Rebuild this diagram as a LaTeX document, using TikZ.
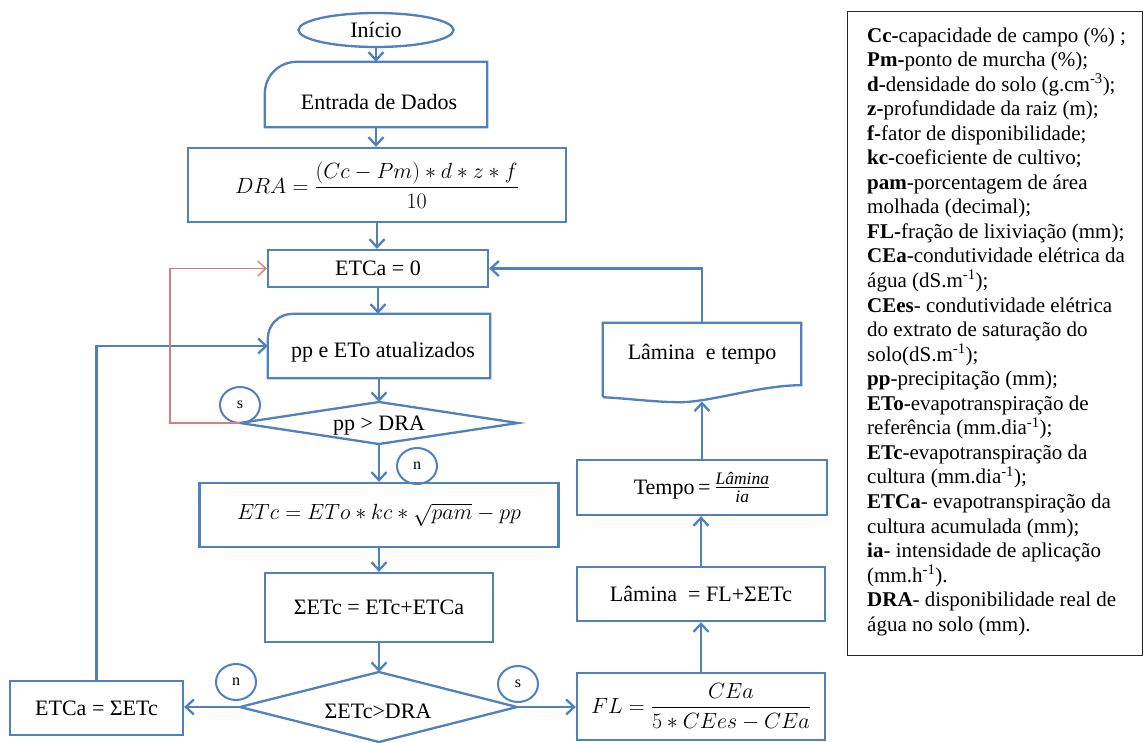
\RequirePackage{fix-cm}
\documentclass[tikz,border=0pt]{standalone}
\usepackage{amsmath}
\usepackage{fontspec}
\setmainfont{Liberation Serif}
\usetikzlibrary{arrows.meta,shapes.geometric,calc}
\definecolor{fblue}{RGB}{79,129,189}
\definecolor{fred}{RGB}{214,128,126}
\begin{document}
\begin{tikzpicture}[x=1pt,y=-1pt,
  box/.style={draw=fblue, line width=2.3pt, inner sep=0pt, font=\fontsize{22}{26}\selectfont},
  txt/.style={inner sep=0pt, font=\fontsize{22}{26}\selectfont},
  conn/.style={draw=fblue, line width=2.3pt, -{Straight Barb[length=8pt,width=15pt]}},
  rconn/.style={draw=fred, line width=1.4pt, -{Straight Barb[length=8pt,width=15pt]}},
  lbl/.style={draw=fblue, line width=2pt, ellipse, minimum width=40pt, minimum height=36pt, inner sep=0pt, font=\fontsize{16}{18}\selectfont},
  shp/.style={draw=fblue, line width=2.3pt, line join=miter},
  leg/.style={inner sep=0pt, font=\fontsize{21}{24}\selectfont, anchor=base west}
]
\useasboundingbox (0,0) rectangle (1146,742);
\fill[white] (0,0) rectangle (1146,742);

% start
\node[box, ellipse, minimum width=155pt, minimum height=34pt] (start) at (376,30) {Início};

% entrada de dados (manual input with rounded corner)
\node[minimum width=222pt, minimum height=65pt, inner sep=0pt] (entrada) at (376,94.5) {};
\draw[shp] (entrada.south west) -- ($(entrada.north west)+(0,32)$)
  .. controls ($(entrada.north west)+(0,14)$) and ($(entrada.north west)+(14,0)$) .. ($(entrada.north west)+(32,0)$)
  -- (entrada.north east) -- (entrada.south east) -- cycle;
\node[txt] (entradaT) at (379,102) {Entrada de Dados};

% DRA
\node[box, minimum width=378pt, minimum height=74pt] (dra) at (377,185) {$DRA=\dfrac{(Cc-Pm)\ast d\ast z\ast f}{10}$};

% ETCa = 0
\node[box, minimum width=220pt, minimum height=37pt] (etca0) at (378,268.5) {ETCa = 0};

% pp e ETo atualizados
\node[minimum width=222pt, minimum height=64pt, inner sep=0pt] (pp) at (379,346) {};
\draw[shp] (pp.south west) -- ($(pp.north west)+(0,25)$)
  .. controls ($(pp.north west)+(0,11)$) and ($(pp.north west)+(11,0)$) .. ($(pp.north west)+(25,0)$)
  -- (pp.north east) -- (pp.south east) -- cycle;
\node[txt] (ppT) at (383,352) {pp e ETo atualizados};

% decision 1
\coordinate (d1n) at (379,402);
\coordinate (d1e) at (518,423);
\coordinate (d1s) at (379,444);
\coordinate (d1w) at (240,423);
\draw[shp] (d1n) -- (d1e) -- (d1s) -- (d1w) -- cycle;
\node[txt] (d1) at (379,426) {pp > DRA};

% ETc
\node[box, minimum width=359pt, minimum height=64pt] (etc) at (379,515) {$ETc = ETo\ast kc\ast\sqrt{pam}-pp$};

% sum
\node[box, minimum width=228pt, minimum height=69pt] (sum) at (379,607.5) {ΣETc = ETc+ETCa};

% decision 2
\coordinate (d2n) at (379,672);
\coordinate (d2e) at (517,707);
\coordinate (d2s) at (379,742);
\coordinate (d2w) at (240,707);
\draw[shp] (d2n) -- (d2e) -- (d2s) -- (d2w) -- cycle;
\node[txt] (d2) at (378,711) {ΣETc>DRA};

% ETCa = sum
\node[box, minimum width=173pt, minimum height=54pt] (etcasum) at (96.5,708) {ETCa = ΣETc};

% right column
\node[box, minimum width=248pt, minimum height=67pt] (fl) at (701,706.5) {$FL=\dfrac{CEa}{5\ast CEes-CEa}$};
\node[box, minimum width=248pt, minimum height=54pt] (lamina) at (701,594) {Lâmina \ = FL+ΣETc};
\node[box, minimum width=250pt, minimum height=55pt] (tempo) at (702,487.5) {Tempo\,=\,{\fontsize{25}{28}\selectfont$\frac{\textit{Lâmina}}{\textit{ia}}$}};

% document shape
\node[txt, minimum width=198pt, minimum height=62pt] (doc) at (702,354) {Lâmina \ e tempo};
\draw[shp] ($(doc.south west)+(0,12)$) -- (doc.north west) -- (doc.north east) -- (doc.south east)
  .. controls ($(doc.south east)+(-41,0)$) and ($(doc.south)+(8,17)$) .. ($(doc.south)+(-22,17)$)
  .. controls ($(doc.south)+(-47,17)$) and ($(doc.south west)+(22,13)$) .. ($(doc.south west)+(0,12)$);
\coordinate (docb) at (701,401.5);

% labels
\node[lbl] (s1) at (240,405) {s};
\node[lbl] (n1) at (417,466) {n};
\node[lbl] (n2) at (236,682) {n};
\node[lbl] (s2) at (518,684) {s};

% connectors
\draw[conn] (start.south) -- (entrada.north);
\draw[conn] (entrada.south) -- (entrada.south |- dra.north);
\draw[conn] (dra.south) -- (dra.south |- etca0.north);
\draw[conn] (etca0.south) -- (etca0.south |- pp.north);
\draw[conn] (pp.south) -- (d1n);
\draw[conn] (d1s) -- (etc.north);
\draw[conn] (etc.south) -- (sum.north);
\draw[conn] (sum.south) -- (d2n);
\draw[conn] (d2w) -- (d2w -| etcasum.east);
\draw[conn] (d2e) -- (d2e -| fl.west);
\draw[conn] (fl.north) -- (lamina.south);
\draw[conn] (lamina.north) -- (lamina.north |- tempo.south);
\draw[conn] (tempo.north) -- (tempo.north |- docb);
\draw[conn] (doc.north) |- (etca0.east);
\draw[conn] (etcasum.north) |- (pp.west);
\draw[rconn] (d1w) -- ++(-70,0) |- (etca0.west);

% legend
\node[draw=black!85, line width=1.4pt, minimum width=295pt, minimum height=644pt, anchor=north west, inner sep=0pt] (legend) at (846.5,11) {};
\foreach \lt [count=\i] in {
  {\textbf{Cc-}capacidade de campo (\%) ;},
  {\textbf{Pm-}ponto de murcha (\%);},
  {\textbf{d-}densidade do solo (g.cm\textsuperscript{-3});},
  {\textbf{z-}profundidade da raiz (m);},
  {\textbf{f-}fator de disponibilidade;},
  {\textbf{kc-}coeficiente de cultivo;},
  {\textbf{pam}-porcentagem de área},
  {molhada (decimal);},
  {\textbf{FL-}fração de lixiviação (mm);},
  {\textbf{CEa}-condutividade elétrica da},
  {água (dS.m\textsuperscript{-1});},
  {\textbf{CEes}- condutividade elétrica},
  {do extrato de saturação do},
  {solo(dS.m\textsuperscript{-1});},
  {\textbf{pp}-precipitação (mm);},
  {\textbf{ETo}-evapotranspiração de},
  {referência (mm.dia\textsuperscript{-1});},
  {\textbf{ETc}-evapotranspiração da},
  {cultura (mm.dia\textsuperscript{-1});},
  {\textbf{ETCa}- evapotranspiração da},
  {cultura acumulada (mm);},
  {\textbf{ia}- intensidade de aplicação},
  {(mm.h\textsuperscript{-1}).},
  {\textbf{DRA}- disponibilidade real de},
  {água no solo (mm).}}
  \node[leg] (leg\i) at (867,{42+(\i-1)*24.55}) {\lt};
\end{tikzpicture}
\end{document}
